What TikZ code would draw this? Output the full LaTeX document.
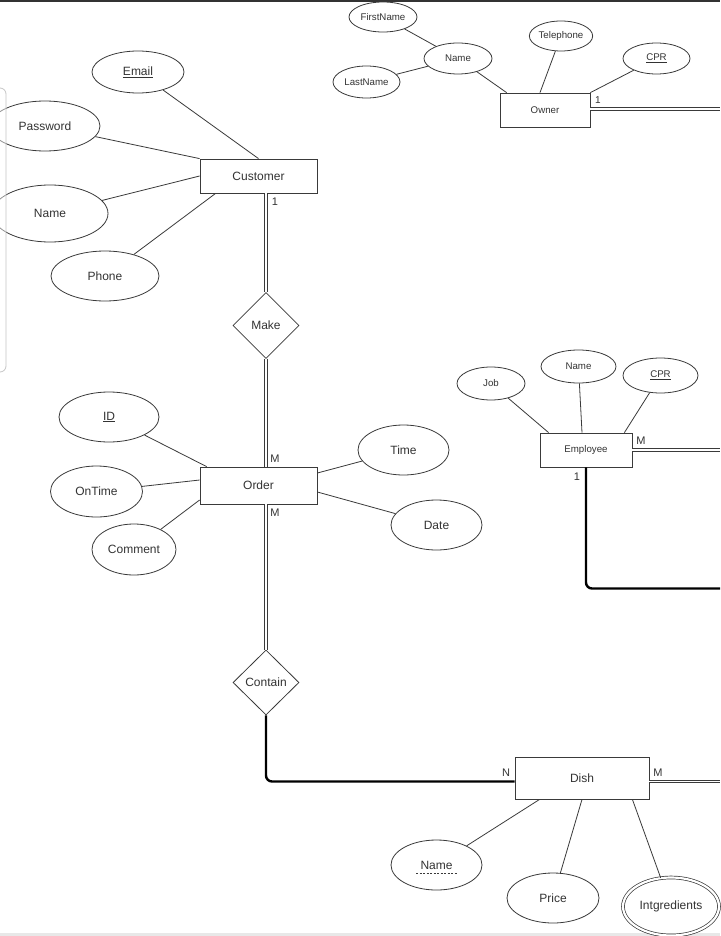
\documentclass[tikz,border=0pt]{standalone}
\usepackage{fontspec}
\setmainfont{Liberation Sans}
\usetikzlibrary{shapes.geometric,calc}
\definecolor{ink}{HTML}{3A3A3A}
\definecolor{txt}{HTML}{333333}
\tikzset{
  big/.style={font=\fontsize{12}{14}\selectfont},
  small/.style={font=\fontsize{9.7}{11}\selectfont},
  attr/.style={ellipse,draw=ink,line width=0.8pt,inner sep=0pt,text=txt},
  entity/.style={rectangle,draw=ink,line width=0.8pt,inner sep=0pt,text=txt},
  rel/.style={diamond,draw=ink,line width=0.8pt,inner sep=0pt,text=txt,big},
  link/.style={draw=ink,line width=0.8pt},
  dbl/.style={draw=ink,line width=0.7pt,double=white,double distance=1.8pt},
  thick link/.style={draw=black,line width=2.4pt,rounded corners=6pt},
  card/.style={text=txt,inner sep=0pt,font=\fontsize{11}{13}\selectfont},
}
\begin{document}
\begin{tikzpicture}[x=1pt,y=-1pt]
\useasboundingbox (0,0) rectangle (720,936);
\fill[white] (0,0) rectangle (720,936);
\fill[black!80] (0,0) rectangle (720,2.5);
\fill[gray!18] (0,933) rectangle (720,936);

% ---------- Customer ----------
\node[entity,big,minimum width=117pt,minimum height=34pt] (customer) at (258.5,176) {Customer};
\node[attr,big,minimum width=92pt,minimum height=42pt] (email) at (138,72) {\underline{Email}};
\node[attr,big,minimum width=110pt,minimum height=50pt] (password) at (45,126) {Password};
\node[attr,big,minimum width=116pt,minimum height=57pt] (cname) at (50,213.5) {Name};
\node[attr,big,minimum width=108pt,minimum height=50pt] (phone) at (105,276) {Phone};
\draw[link] (email) -- (customer.north);
\draw[link] (password) -- (customer.north west);
\draw[link] (cname) -- (customer.west);
\draw[link] (phone) -- ([xshift=16pt]customer.south west);

% fade of the left panel
\fill[white,opacity=0.45] (-1,88) rectangle (6,372);
\draw[gray!45,line width=0.8pt,rounded corners=6pt] (-10,88) -- (6,88) -- (6,372) -- (-10,372);

% ---------- Make ----------
\node[rel,minimum width=66pt,minimum height=66pt] (make) at (266,325.5) {Make};
\coordinate (cs) at (266,193);
\draw[dbl] (cs) -- (make.north);
\node[card] at (275,202) {1};

% ---------- Order ----------
\node[entity,big,minimum width=117pt,minimum height=37pt] (order) at (258.5,485.5) {Order};
\draw[dbl] (make.south) -- (order.north -| make.south);
\node[card] at (275,459) {M};
\node[card] at (275,513) {M};
\node[attr,big,minimum width=100pt,minimum height=50pt] (oid) at (109,417) {\underline{ID}};
\node[attr,big,minimum width=92pt,minimum height=51pt] (ontime) at (96.5,491.5) {OnTime};
\node[attr,big,minimum width=84pt,minimum height=51pt] (comment) at (134,549.5) {Comment};
\node[attr,big,minimum width=91pt,minimum height=50pt] (time) at (403.5,450) {Time};
\node[attr,big,minimum width=91pt,minimum height=50pt] (date) at (436.5,525) {Date};
\draw[link] (oid) -- ([xshift=7pt]order.north west);
\draw[link] (ontime) -- ([yshift=5.5pt]order.west);
\draw[link] (comment) -- ([yshift=-14.5pt]order.west);
\draw[link] (time) -- ([yshift=12.5pt]order.east);
\draw[link] (date) -- ([yshift=-6.5pt]order.east);

% ---------- Contain ----------
\node[rel,minimum width=66pt,minimum height=65pt] (contain) at (266,682.5) {Contain};
\draw[dbl] (order.south -| contain.north) -- (contain.north);

% ---------- Dish ----------
\node[entity,big,minimum width=134pt,minimum height=42pt] (dish) at (582,778) {Dish};
\draw[thick link] (contain.south) -- (266,781.5) -- (dish.west |- 0,781.5);
\node[card] at (506,773) {N};
\node[card] at (658,773) {M};
\coordinate (dishR) at (720,781.5);
\draw[dbl] (dish.east |- dishR) -- (dishR);
\node[attr,big,minimum width=91pt,minimum height=50pt] (dname) at (436.5,865) {Name};
\draw[ink,dashed,dash pattern=on 2pt off 1.5pt,line width=0.6pt] (416,873.5) -- (458,873.5);
\node[attr,big,minimum width=92pt,minimum height=50pt] (price) at (553,898) {Price};
\node[attr,big,minimum width=96pt,minimum height=58pt,double=white,double distance=2.2pt,line width=0.7pt] (ingr) at (671,906.5) {Intgredients};
\draw[link] (dname) -- ([xshift=25pt]dish.south west);
\draw[link] (price) -- (dish.south);
\draw[link] (ingr) -- ([xshift=-17pt]dish.south east);

% ---------- Owner ----------
\node[entity,small,minimum width=90pt,minimum height=34pt] (owner) at (545,110) {Owner};
\node[attr,small,minimum width=68pt,minimum height=30pt] (fname) at (383,17) {FirstName};
\node[attr,small,minimum width=68pt,minimum height=31pt] (oname) at (458,58.5) {Name};
\node[attr,small,minimum width=67pt,minimum height=32pt] (lname) at (366.5,82) {LastName};
\node[attr,small,minimum width=58pt,minimum height=30pt] (tel) at (561,36) {Telephone};
\node[attr,small,minimum width=67pt,minimum height=31pt] (ocpr) at (656.5,58.5) {\underline{CPR}};
\draw[link] (fname) -- (oname);
\draw[link] (lname) -- (oname);
\draw[link] (oname) -- ([xshift=7pt]owner.north west);
\draw[link] (tel) -- ([xshift=-5pt]owner.north);
\draw[link] (ocpr) -- (owner.north east);
\coordinate (ownerR) at (720,109);
\draw[dbl] (owner.east |- ownerR) -- (ownerR);
\node[card,font=\fontsize{10}{12}\selectfont] at (598,100) {1};

% ---------- Employee ----------
\node[entity,small,minimum width=92pt,minimum height=34pt] (emp) at (586,450) {Employee};
\node[attr,small,minimum width=68pt,minimum height=33pt] (job) at (491,383.5) {Job};
\node[attr,small,minimum width=75pt,minimum height=33pt] (ename) at (578.5,366.5) {Name};
\node[attr,small,minimum width=75pt,minimum height=35pt] (ecpr) at (660.5,375.5) {\underline{CPR}};
\draw[link] (job) -- ([xshift=9pt]emp.north west);
\draw[link] (ename) -- ([xshift=-4pt]emp.north);
\draw[link] (ecpr) -- ([xshift=-8pt]emp.north east);
\coordinate (empR) at (720,450);
\draw[dbl] (emp.east) -- (empR);
\node[card] at (641,441) {M};
\node[card] at (577,477) {1};
\coordinate (empB) at (720,588.5);
\draw[thick link] (emp.south) -- (586,588.5) -- (empB);
\end{tikzpicture}
\end{document}
